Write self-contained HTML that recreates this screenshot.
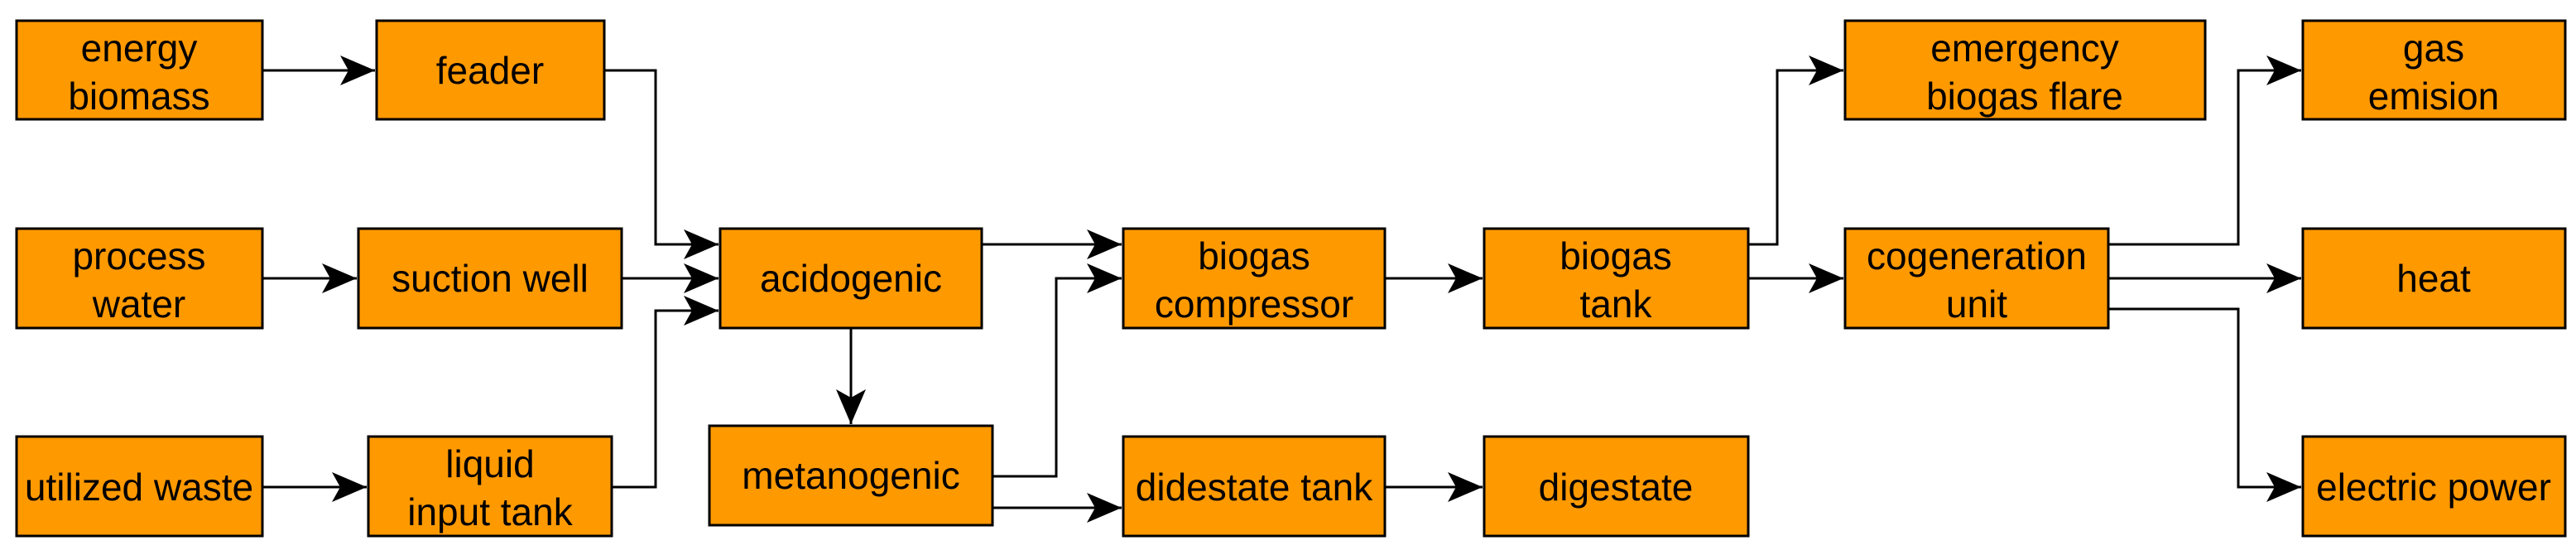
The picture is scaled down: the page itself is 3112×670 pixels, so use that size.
<!DOCTYPE html>
<html><head><meta charset="utf-8"><style>
html,body{margin:0;padding:0;background:#fff;}
svg{display:block;}
text{font-family:"Liberation Sans",Arial,sans-serif;font-size:46px;fill:#000;text-anchor:middle;}
</style></head><body>
<svg width="3112" height="670" viewBox="0 0 3112 670" xmlns="http://www.w3.org/2000/svg">
<defs>
<marker id="a" markerUnits="userSpaceOnUse" markerWidth="44" markerHeight="36" refX="42" refY="18" orient="auto">
<path d="M0,0 L42,18 L0,36 L10,18 Z" fill="#000"/>
</marker>
</defs>
<g fill="none" stroke="#000" stroke-width="3">
<polyline points="317,85 453,85" marker-end="url(#a)"/>
<polyline points="730,85 792,85 792,295 868,295" marker-end="url(#a)"/>
<polyline points="317,336 431,336" marker-end="url(#a)"/>
<polyline points="751,336 868,336" marker-end="url(#a)"/>
<polyline points="317,588 443,588" marker-end="url(#a)"/>
<polyline points="739,588 792,588 792,375 868,375" marker-end="url(#a)"/>
<polyline points="1028,396 1028,512" marker-end="url(#a)"/>
<polyline points="1186,295 1355,295" marker-end="url(#a)"/>
<polyline points="1199,575 1276,575 1276,336 1355,336" marker-end="url(#a)"/>
<polyline points="1199,613 1355,613" marker-end="url(#a)"/>
<polyline points="1673,336 1791,336" marker-end="url(#a)"/>
<polyline points="1673,588 1791,588" marker-end="url(#a)"/>
<polyline points="2112,295 2147,295 2147,85 2227,85" marker-end="url(#a)"/>
<polyline points="2112,336 2227,336" marker-end="url(#a)"/>
<polyline points="2547,295 2704,295 2704,85 2780,85" marker-end="url(#a)"/>
<polyline points="2547,336 2780,336" marker-end="url(#a)"/>
<polyline points="2547,373 2704,373 2704,588 2780,588" marker-end="url(#a)"/>
</g>
<g fill="#FF9900" stroke="#000" stroke-width="3">
<rect x="20" y="25" width="297" height="119"/>
<rect x="455" y="25" width="275" height="119"/>
<rect x="20" y="276" width="297" height="120"/>
<rect x="433" y="276" width="318" height="120"/>
<rect x="20" y="527" width="297" height="120"/>
<rect x="445" y="527" width="294" height="120"/>
<rect x="870" y="276" width="316" height="120"/>
<rect x="857" y="514" width="342" height="120"/>
<rect x="1357" y="276" width="316" height="120"/>
<rect x="1793" y="276" width="319" height="120"/>
<rect x="1357" y="527" width="316" height="120"/>
<rect x="1793" y="527" width="319" height="120"/>
<rect x="2229" y="25" width="435" height="119"/>
<rect x="2229" y="276" width="318" height="120"/>
<rect x="2782" y="25" width="317" height="119"/>
<rect x="2782" y="276" width="317" height="120"/>
<rect x="2782" y="527" width="317" height="120"/>
</g>
<text x="168" y="74">energy</text><text x="168" y="132">biomass</text>
<text x="592" y="101">feader</text>
<text x="168" y="325">process</text><text x="168" y="383">water</text>
<text x="592" y="352">suction well</text>
<text x="168" y="604">utilized waste</text>
<text x="592" y="576">liquid</text><text x="592" y="634">input tank</text>
<text x="1028" y="352">acidogenic</text>
<text x="1028" y="590">metanogenic</text>
<text x="1515" y="325">biogas</text><text x="1515" y="383">compressor</text>
<text x="1952" y="325">biogas</text><text x="1952" y="383">tank</text>
<text x="1515" y="604">didestate tank</text>
<text x="1952" y="604">digestate</text>
<text x="2446" y="74">emergency</text><text x="2446" y="132">biogas flare</text>
<text x="2388" y="325">cogeneration</text><text x="2388" y="383">unit</text>
<text x="2940" y="74">gas</text><text x="2940" y="132">emision</text>
<text x="2940" y="352">heat</text>
<text x="2940" y="604">electric power</text>
</svg>
</body></html>
